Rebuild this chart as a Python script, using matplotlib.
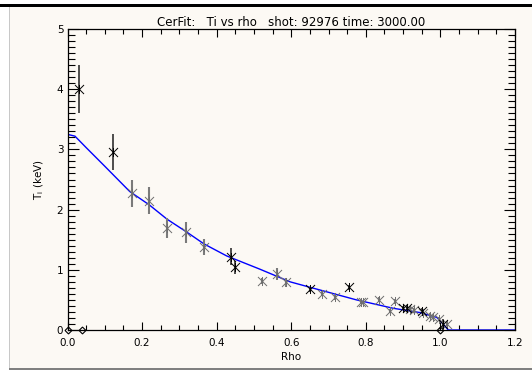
import matplotlib
matplotlib.use("Agg")
import matplotlib.pyplot as plt
from matplotlib.patches import Rectangle
from matplotlib.path import Path
from matplotlib.ticker import MultipleLocator

plt.rcParams['font.family'] = ['DejaVu Sans']

# measured Ti points: black ones and gray ones
rho_blk = [0.032, 0.123, 0.438, 0.448, 0.650, 0.755, 0.900, 0.911, 0.951, 1.006]
ti_blk = [4.01, 2.95, 1.22, 1.04, 0.675, 0.71, 0.365, 0.37, 0.32, 0.10]
err_blk = [0.40, 0.30, 0.14, 0.11, 0.04, 0.04, 0.03, 0.03, 0.04, 0.08]

rho_gry = [0.172, 0.219, 0.267, 0.319, 0.366, 0.522, 0.561, 0.586, 0.683, 0.717,
           0.786, 0.793, 0.836, 0.865, 0.879, 0.918, 0.929, 0.954, 0.972, 0.981,
           0.997, 1.018]
ti_gry = [2.27, 2.15, 1.69, 1.62, 1.38, 0.82, 0.925, 0.79, 0.60, 0.54,
          0.465, 0.46, 0.50, 0.315, 0.475, 0.35, 0.33, 0.28, 0.23, 0.22,
          0.19, 0.10]
err_gry = [0.22, 0.22, 0.17, 0.17, 0.13, 0.05, 0.10, 0.07, 0.04, 0.04,
           0.03, 0.03, 0.04, 0.04, 0.04, 0.03, 0.03, 0.03, 0.03, 0.03,
           0.03, 0.04]

# zero-valued points (diamonds)
rho_zero = [0.0, 0.04, 1.0]
ti_zero = [0.0, 0.0, 0.0]

# fitted profile
rho_fit = [0.0, 0.02, 0.05, 0.1, 0.167, 0.219, 0.267, 0.319, 0.366, 0.427,
           0.516, 0.597, 0.65, 0.775, 0.874, 0.945, 0.99, 1.0, 1.021, 1.2]
ti_fit = [3.25, 3.22, 3.03, 2.72, 2.30, 2.08, 1.84, 1.63, 1.43, 1.23,
          1.01, 0.80, 0.71, 0.50, 0.36, 0.29, 0.21, 0.15, 0.0, 0.0]

W, H = 532, 372
fig = plt.figure(figsize=(W / 100, H / 100), dpi=100)
fig.patch.set_facecolor('white')

# panel frame like the GUI window
fig.patches.append(Rectangle((10 / W, 4 / H), 522 / W, 361 / H, transform=fig.transFigure,
                             facecolor='#fcf9f4', edgecolor='none', zorder=-2))
fig.patches.append(Rectangle((0, 1 - 7 / H), 1, 3 / H, transform=fig.transFigure,
                             facecolor='black', edgecolor='none', zorder=-1))
fig.patches.append(Rectangle((9 / W, 3 / H), 1 / W, 362 / H, transform=fig.transFigure,
                             facecolor='#c8c8c8', edgecolor='none', zorder=-1))
fig.patches.append(Rectangle((9 / W, 2 / H), 523 / W, 2 / H, transform=fig.transFigure,
                             facecolor='#808080', edgecolor='none', zorder=-1))

ax = fig.add_axes([67.5 / W, 1 - 330 / H, (515 - 67.5) / W, (330 - 29) / H])
ax.set_zorder(2)
ax.set_facecolor('none')

ax.plot(rho_fit, ti_fit, color='#0000ff', lw=1.0, zorder=2)

# IDL-like asterisk: an x with a vertical stroke
ast = Path([(-1, -1), (1, 1), (-1, 1), (1, -1), (0, -1), (0, 1)],
           [Path.MOVETO, Path.LINETO, Path.MOVETO, Path.LINETO, Path.MOVETO, Path.LINETO])
ax.errorbar(rho_gry, ti_gry, yerr=err_gry, fmt='none', ecolor='#7a7a7a', elinewidth=1.5, zorder=3)
ax.plot(rho_gry, ti_gry, ls='none', marker=ast, ms=6.5, mew=0.7, color='#6e6e6e', zorder=4)
ax.errorbar(rho_blk, ti_blk, yerr=err_blk, fmt='none', ecolor='#303030', elinewidth=1.2, zorder=3)
ax.plot(rho_blk, ti_blk, ls='none', marker=ast, ms=6.5, mew=0.7, color='black', zorder=5)
ax.plot(rho_zero, ti_zero, ls='none', marker='D', ms=3.5, mfc='none', mec='black',
        mew=0.8, clip_on=False, zorder=6)

ax.set_xlim(0, 1.2)
ax.set_ylim(0, 5)
ax.xaxis.set_major_locator(MultipleLocator(0.2))
ax.xaxis.set_minor_locator(MultipleLocator(0.05))
ax.yaxis.set_major_locator(MultipleLocator(1))
ax.yaxis.set_minor_locator(MultipleLocator(0.1))
ax.xaxis.set_major_formatter(plt.FuncFormatter(lambda v, p: '%.1f' % v))
ax.tick_params(which='both', direction='in', top=True, right=True, labelsize=7.5,
               colors='black', width=0.8)
ax.tick_params(axis='x', which='major', length=6, pad=6)
ax.tick_params(axis='x', which='minor', length=3.5)
ax.tick_params(axis='y', which='major', length=8, pad=3)
ax.tick_params(axis='y', which='minor', length=5)
for s in ax.spines.values():
    s.set_linewidth(0.9)

ax.set_xlabel('Rho', fontsize=7.5, labelpad=3)
ax.set_ylabel('T$_\\mathregular{i}$ (keV)', fontsize=7.5, labelpad=8)
ax.set_title('CerFit:   Ti vs rho   shot: 92976 time: 3000.00', fontsize=8.5, pad=2)

fig.savefig('out.png', dpi=100)
